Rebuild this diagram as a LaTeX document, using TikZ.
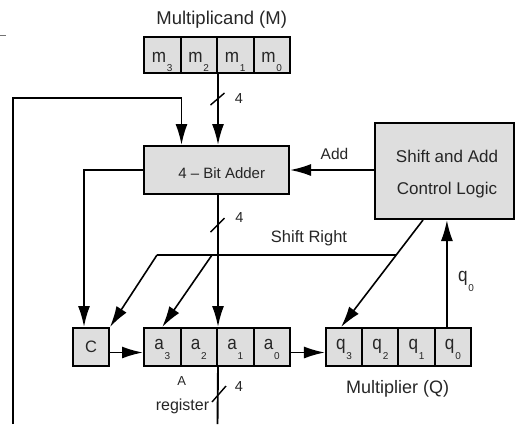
\documentclass[tikz,border=0pt]{standalone}
\usepackage{fontspec}
\setmainfont{Liberation Sans}
\newfontfamily\cellfont[FakeStretch=0.9]{Liberation Sans}
\usetikzlibrary{arrows.meta,calc}

\newcommand\fs[1]{\fontsize{#1}{#1}\selectfont}
% register bit: letter with a small, well lowered index
\newcommand\regbit[3]{{\cellfont\fs{19}#1}\kern0.8pt\raisebox{-#3}{\fs{10}#2}}

\tikzset{
  wire/.style={line width=1.9pt, draw=black},
  thinwire/.style={line width=1.6pt, draw=black},
  arr/.style={wire, -{Latex[length=21pt,width=12pt]}},
  thinarr/.style={thinwire, -{Latex[length=21pt,width=12pt]}},
  buscut/.style={line width=1.4pt, draw=black},
  box/.style={draw=black, line width=2pt, fill=black!13, inner sep=0pt, text=black!85},
  mcell/.style={box, minimum width=36.5pt, minimum height=36pt, text height=16pt, text depth=2pt},
  acell/.style={box, minimum width=36.5pt, minimum height=38pt, text height=12pt, text depth=7pt},
  qcell/.style={box, minimum width=36.25pt, minimum height=38pt, text height=12pt, text depth=7pt},
  lbl/.style={anchor=base, inner sep=0pt, text=black!85},
}

\begin{document}
\begin{tikzpicture}[x=1pt, y=-1pt]
\useasboundingbox (0,0) rectangle (516,424);

% stray rule at the top left
\coordinate (ruleA) at (0,35);
\coordinate (ruleB) at (6,35);
\draw[line width=1pt, black!55] (ruleA) -- (ruleB);

% multiplicand register
\node[lbl, font=\fs{18.5}] (mlabel) at (221.7,24) {Multiplicand (M)};
\node[mcell] (m3) at (162.25,55) {\regbit{m}{3}{9pt}};
\node[mcell] (m2) at (198.75,55) {\regbit{m}{2}{9pt}};
\node[mcell] (m1) at (235.25,55) {\regbit{m}{1}{9pt}};
\node[mcell] (m0) at (271.75,55) {\regbit{m}{0}{9pt}};

% adder and control logic
\node[box, minimum width=145pt, minimum height=48pt] (adder) at (216.5,170) {};
\node[lbl, font=\fs{15}] (addertext) at (221.7,178) {4 – Bit Adder};
\node[box, minimum width=139pt, minimum height=96pt] (ctrl) at (444.5,171) {};
\node[lbl, font=\fs{17}] (ctrltextA) at (447,162.3) {Shift and Add};
\node[lbl, font=\fs{17}] (ctrltextB) at (447,194.7) {Control Logic};

% carry, A and Q registers
\node[box, minimum width=36pt, minimum height=38pt] (C) at (91,347) {\fs{16.5}C};
\node[acell] (a3) at (162.25,347) {\regbit{a}{3}{10pt}};
\node[acell] (a2) at (198.75,347) {\regbit{a}{2}{10pt}};
\node[acell] (a1) at (235.25,347) {\regbit{a}{1}{10pt}};
\node[acell] (a0) at (271.75,347) {\regbit{a}{0}{10pt}};
\node[qcell] (q3) at (344.1,347) {\regbit{q}{3}{10pt}};
\node[qcell] (q2) at (380.4,347) {\regbit{q}{2}{10pt}};
\node[qcell] (q1) at (416.6,347) {\regbit{q}{1}{10pt}};
\node[qcell] (q0) at (452.9,347) {\regbit{q}{0}{10pt}};
\node[lbl, font=\fs{13}] (alabel) at (181.7,385) {A};
\node[lbl, font=\fs{16}] (reglabel) at (182.5,410) {register};
\node[lbl, font=\fs{18}] (qlabel) at (397.7,393.3) {Multiplier (Q)};

% multiplicand bus into the adder
\draw[arr] (m2.south east) -- (m2.south east |- adder.north);
\coordinate (w1) at (217.5,99);
\draw[buscut] ($(w1)+(-7,6)$) -- ($(w1)+(7,-6)$);
\node[lbl, font=\fs{14.5}] (w1n) at (239,103.3) {4};

% A register fed back into the adder
\coordinate (loopfoot) at (13,424);
\coordinate (loopcorner) at (13,98);
\draw[arr] (loopfoot) -- (loopcorner) -| (m3.south east |- adder.north);

% adder carry out to C
\draw[arr] (adder.west) -| ([xshift=-7pt]C.north);

% Add command
\draw[arr] (ctrl.west |- adder.east) -- (adder.east);
\node[lbl, font=\fs{15.5}] (addlbl) at (334.5,159.5) {Add};

% sum bus into the A register
\draw[arr] (adder.south -| a2.north east) -- (a2.north east);
\coordinate (w2) at (217.5,225);
\draw[buscut] ($(w2)+(-7,7)$) -- ($(w2)+(7,-7)$);
\node[lbl, font=\fs{14.5}] (w2n) at (239.5,222.3) {4};

% A register output
\coordinate (afoot) at (217.5,424);
\draw[wire] (a2.south east) -- (afoot);
\coordinate (w3) at (219,394);
\draw[buscut] ($(w3)+(-7,8)$) -- ($(w3)+(7,-8)$);
\node[lbl, font=\fs{14.5}] (w3n) at (239,391.7) {4};

% shifting chain C -> A -> Q
\draw[arr] ([yshift=-5.5pt]C.east) -- ([yshift=-5.5pt]C.east -| a3.west);
\draw[arr] ([yshift=-5.5pt]a0.east) -- ([yshift=-5.5pt]a0.east -| q3.west);

% q0 back to the control logic
\draw[arr] ([xshift=-6pt]q0.north) -- ([xshift=-6pt]q0.north |- ctrl.south);
\node[lbl] (q0lbl) at (466,281.7) {\regbit{q}{0}{10pt}};

% Shift Right command
\coordinate (srstart) at ([xshift=-21.5pt]ctrl.south);
\coordinate (srjoin) at (395.9,255);
\coordinate (srleft) at (157,255);
\coordinate (srmid) at (212,255);
\draw[thinarr] (srstart) -- ([xshift=-3pt]q3.north);
\draw[thinwire] (srjoin) -- (srleft);
\draw[thinarr] (srleft) -- (C.north east);
\draw[thinarr] (srmid) -- (a3.north);
\node[lbl, font=\fs{16.5}] (srlabel) at (309,242.3) {Shift Right};
\end{tikzpicture}
\end{document}
